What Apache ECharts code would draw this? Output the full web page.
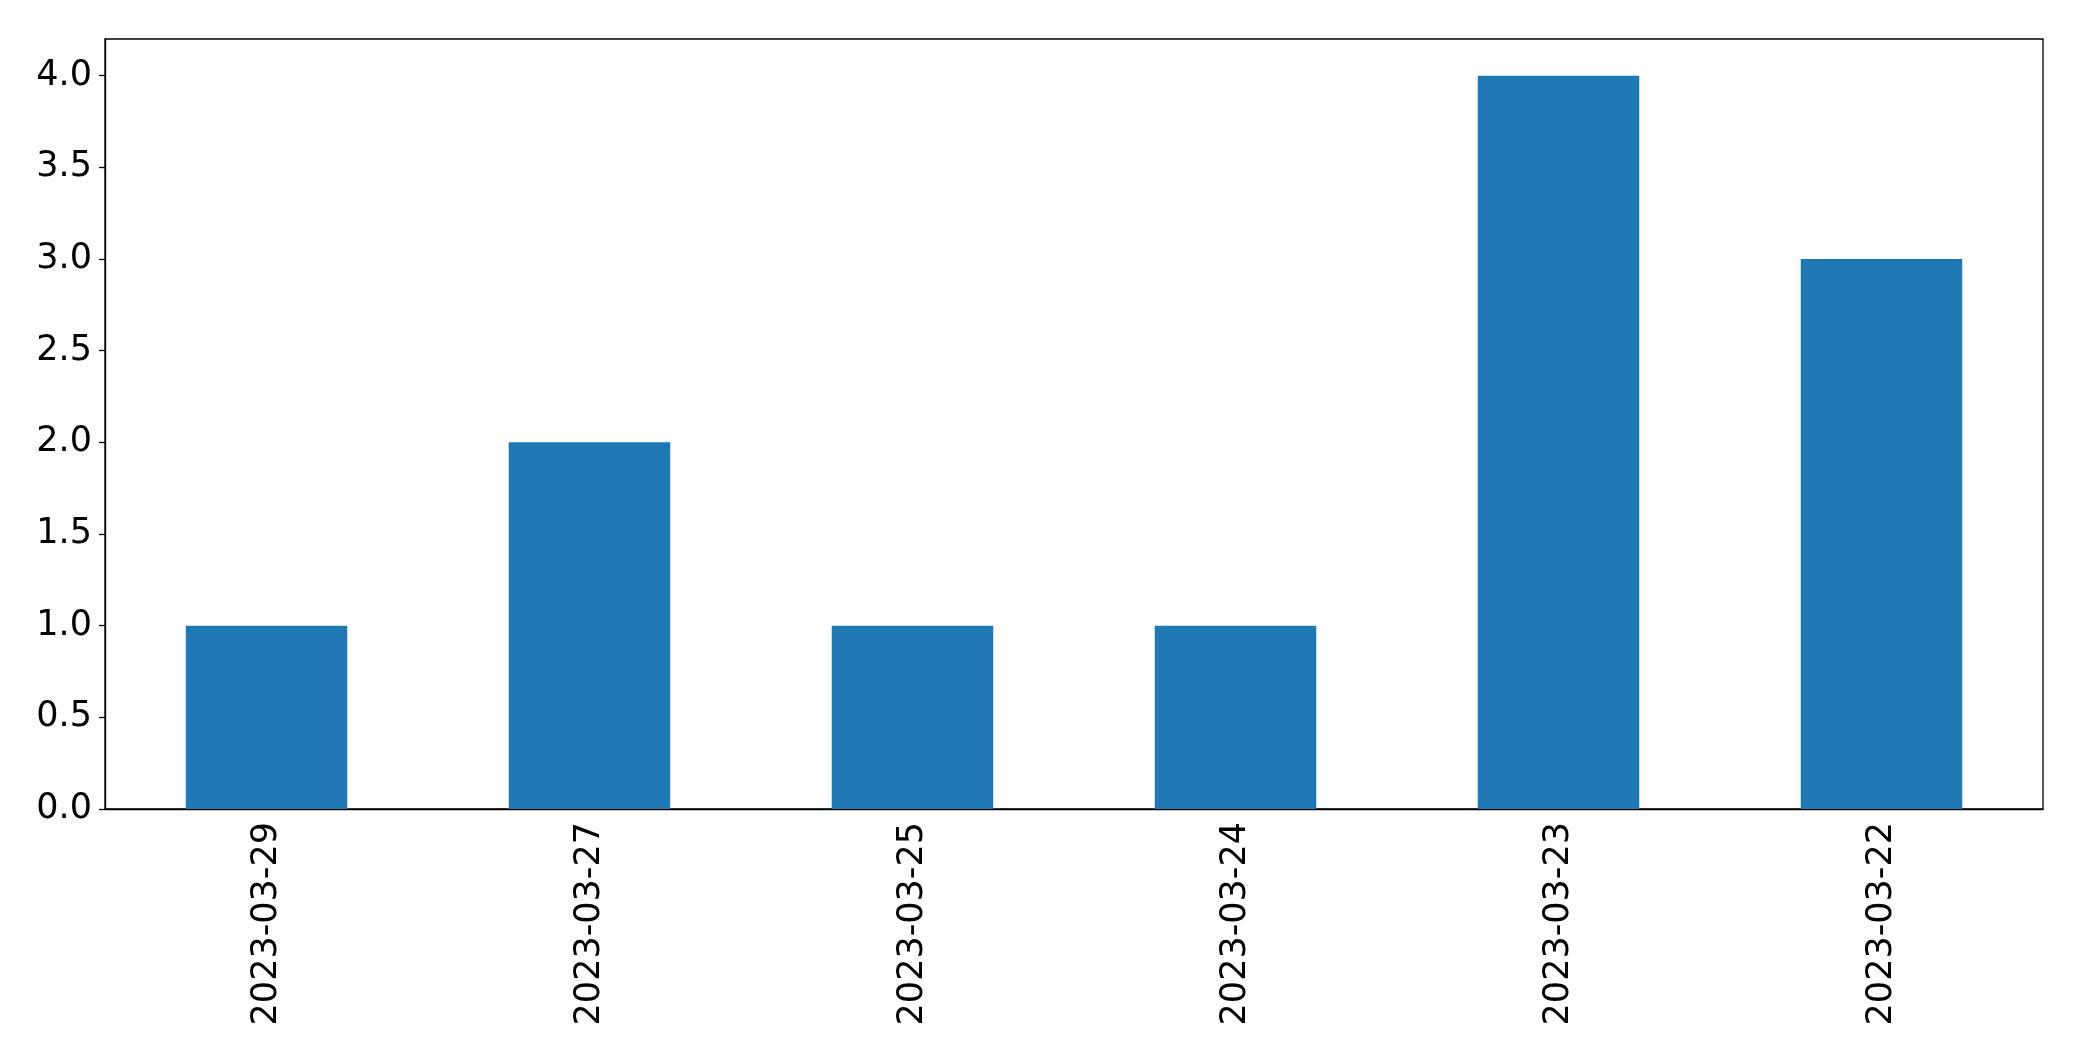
<!DOCTYPE html>
<html>
<head>
<meta charset="utf-8">
<script src="https://cdn.jsdelivr.net/npm/echarts@6/dist/echarts.min.js"></script>
<style>html,body{margin:0;padding:0;background:#fff;}#c{width:2082px;height:1061px;}</style>
</head>
<body>
<div id="c"></div>
<script>
const categories = ['2023-03-29', '2023-03-27', '2023-03-25', '2023-03-24', '2023-03-23', '2023-03-22'];
const values = [1, 2, 1, 1, 4, 3];
const yTicks = [0, 0.5, 1, 1.5, 2, 2.5, 3, 3.5, 4];

const chart = echarts.init(document.getElementById('c'), null, {renderer: 'canvas'});
chart.setOption({
  animation: false,
  backgroundColor: '#fff',
  grid: {left: 105, right: 39, top: 39, bottom: 252, show: true, borderColor: '#000', borderWidth: 1.3, backgroundColor: 'transparent'},
  xAxis: {
    type: 'category',
    data: categories,
    axisLine: {lineStyle: {color: '#000', width: 1.3}},
    axisTick: {alignWithLabel: true, length: 6, lineStyle: {color: '#000', width: 1.3}},
    axisLabel: {rotate: 90, fontFamily: 'DejaVu Sans', fontSize: 35, color: '#000', margin: 13},
    splitLine: {show: false}
  },
  yAxis: {
    type: 'value',
    min: 0, max: 4.2,
    axisLine: {show: true, lineStyle: {color: '#000', width: 1.3}},
    axisTick: {show: true, length: 6, customValues: yTicks, lineStyle: {color: '#000', width: 1.3}},
    axisLabel: {fontFamily: 'DejaVu Sans', fontSize: 35, color: '#000', margin: 13,
      customValues: yTicks, formatter: v => v.toFixed(1)},
    splitLine: {show: false}
  },
  series: [{
    type: 'bar',
    data: values,
    barWidth: '50%',
    itemStyle: {color: '#1f77b4'}
  }]
});
</script>
</body>
</html>
